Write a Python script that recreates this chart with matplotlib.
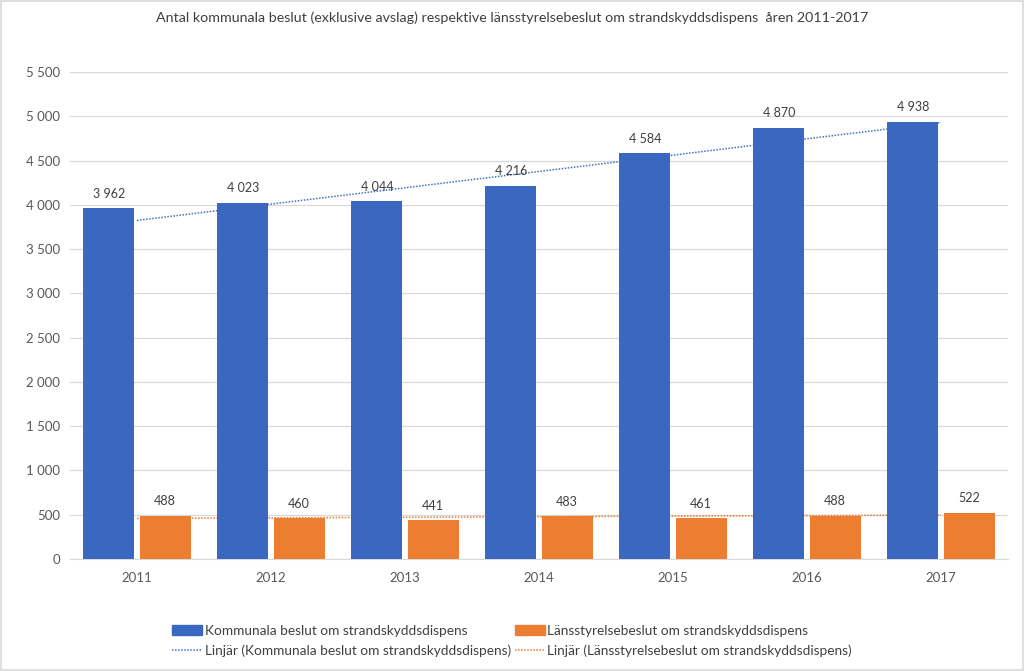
import matplotlib
matplotlib.use("Agg")
import matplotlib.pyplot as plt
import numpy as np
from matplotlib.patches import Rectangle
from matplotlib.lines import Line2D
from matplotlib.ticker import FuncFormatter

years = ["2011", "2012", "2013", "2014", "2015", "2016", "2017"]
kommunala = [3962, 4023, 4044, 4216, 4584, 4870, 4938]
lansstyrelse = [488, 460, 441, 483, 461, 488, 522]
yticks = [0, 500, 1000, 1500, 2000, 2500, 3000, 3500, 4000, 4500, 5000, 5500]

title = "Antal kommunala beslut (exklusive avslag) respektive länsstyrelsebeslut om strandskyddsdispens  åren 2011-2017"
lab_k = "Kommunala beslut om strandskyddsdispens"
lab_l = "Länsstyrelsebeslut om strandskyddsdispens"

blue = "#4472C4"
bar_blue = "#3A68C0"
orange = "#ED7D31"

plt.rcParams['font.family'] = ['Lato', 'DejaVu Sans']

fig = plt.figure(figsize=(10.24, 6.71), dpi=100)
ax = fig.add_axes([70/1024, 1-559/671, (1008-70)/1024, (559-72)/671])

x = np.arange(len(years))
w = 0.38
off = 0.21
ax.bar(x - off, kommunala, w, color=bar_blue, zorder=3)
ax.bar(x + off, lansstyrelse, w, color=orange, zorder=3)

def fmt(v):
    return f"{int(v):,}".replace(",", " ")

for xi, v in zip(x, kommunala):
    ax.annotate(fmt(v), (xi - off, v), xytext=(0, 6), textcoords="offset points",
                ha="center", va="bottom", fontsize=9, color="#404040", zorder=5)
for xi, v in zip(x, lansstyrelse):
    ax.annotate(fmt(v), (xi + off, v), xytext=(0, 6), textcoords="offset points",
                ha="center", va="bottom", fontsize=9, color="#404040", zorder=5)

# linear trendlines (computed from the data)
xs = np.arange(1, len(years) + 1)
pk = np.polyfit(xs, kommunala, 1)
pl = np.polyfit(xs, lansstyrelse, 1)
ax.plot(x, np.polyval(pk, xs), linestyle=(0, (1, 1)), color=blue, lw=1.1, zorder=2)
ax.plot(x, np.polyval(pl, xs), linestyle=(0, (1, 1)), color=orange, lw=1.1, zorder=2)

ax.set_xlim(-0.5, len(years) - 0.5)
ax.set_ylim(0, 5500)
ax.set_yticks(yticks)
ax.yaxis.set_major_formatter(FuncFormatter(lambda v, p: fmt(v)))
ax.set_xticks(x)
ax.set_xticklabels(years)
ax.tick_params(axis="both", length=0, labelsize=9.5, colors="#595959")
ax.tick_params(axis="y", pad=7)
ax.tick_params(axis="x", pad=9)
ax.grid(axis="y", color="#D9D9D9", lw=0.9, zorder=0)
for s in ["top", "right", "left"]:
    ax.spines[s].set_visible(False)
ax.spines["bottom"].set_color("#D9D9D9")
ax.spines["bottom"].set_zorder(1)

fig.text(0.5, 1 - 18/671, title, ha="center", va="center", fontsize=10.3, color="#404040")

handles = [
    Rectangle((0, 0), 1, 1, color=bar_blue),
    Line2D([], [], linestyle=(0, (1, 1)), color=blue, lw=1.1),
    Rectangle((0, 0), 1, 1, color=orange),
    Line2D([], [], linestyle=(0, (1, 1)), color=orange, lw=1.1),
]
labels = [lab_k, "Linjär (" + lab_k + ")", lab_l, "Linjär (" + lab_l + ")"]
leg = fig.legend(handles, labels, ncol=2, loc="center", bbox_to_anchor=(0.5, 1 - 641/671),
                 frameon=False, fontsize=9.8, labelcolor="#404040", handlelength=2.2,
                 handletextpad=0.2, columnspacing=0.3, labelspacing=0.55, handleheight=0.7)

fig.patches.append(Rectangle((0.001, 0.001), 0.998, 0.998, transform=fig.transFigure,
                             fill=False, edgecolor="#D9D9D9", lw=1.2))

fig.savefig("out.png", dpi=100)
